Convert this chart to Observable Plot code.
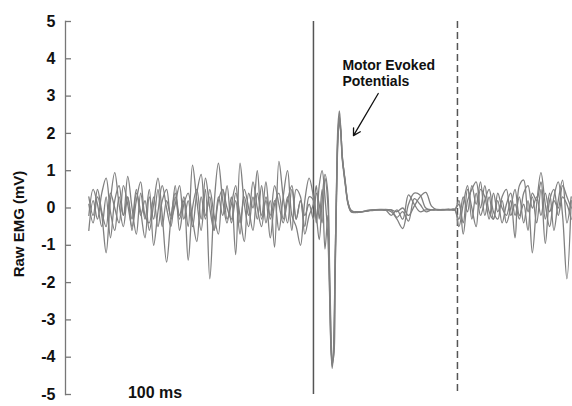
<!DOCTYPE html>
<html>
<head>
<meta charset="utf-8">
<script src="https://cdn.jsdelivr.net/npm/d3@7"></script>
<script src="https://cdn.jsdelivr.net/npm/@observablehq/plot@0.6"></script>
<style>
  html, body { margin: 0; padding: 0; background: #fff; }
  #chart svg { font-family: "Liberation Sans", Arial, Helvetica, sans-serif; background: #fff; }
</style>
</head>
<body>
<div id="chart"></div>
<script>
// Sampling times (ms relative to the stimulus)
const tPre = d3.range(-156, 0, 3);
const tMep = [0, 2, 4, 6, 8, 10, 11, 12, 13, 14, 15, 16, 17, 18, 19, 20, 22, 24, 26, 28, 30];
const tFlat = d3.range(34, 99, 4);
const tPost = d3.range(101, 180, 3);
const times = [...tPre, ...tMep, ...tFlat, ...tPost];

// Raw EMG traces (mV)
const traceA = [
  0.1,-0.4,0.3,-0.2,-1.2,0.2,0.95,0.1,-0.5,0.3,
  -0.3,0.5,-0.2,0.2,-0.6,0.1,0.8,-0.2,-1.45,-0.3,
  0.4,-0.2,0.3,-0.5,1.15,0.2,-0.6,0.5,-1.9,0.1,
  1.2,0.2,-0.4,0.3,-1.25,1.2,0.1,-0.5,0.3,-0.3,
  0.6,-0.4,0.2,-1.05,1.25,0.3,-0.4,0.5,-0.3,0.2,
  -0.5,0.3,
  0.2,-0.4,0.6,1.0,0.3,-0.8,-2.0,-3.6,-4.3,-3.8,-1.6,0.6,2.2,2.6,2.1,1.4,0.7,0.15,-0.08,-0.12,-0.12,
  -0.1,-0.08,-0.06,-0.05,-0.05,-0.1,-0.3,-0.55,0.1,0.4,0.35,0.0,-0.05,-0.05,-0.04,-0.05,-0.05,
  -0.3,0.3,-0.1,0.6,0.1,0.7,-0.2,0.3,-0.3,0.2,-0.4,0.1,0.4,-0.2,0.3,-0.4,0.2,-1.2,0.1,0.95,0.1,-0.5,0.3,0.7,-0.2,-1.9,0.2
];
const traceB = [
  -0.6,0.2,-0.3,0.4,0.8,-0.1,-0.6,0.3,-0.2,0.85,
  0.0,-0.7,0.4,-0.3,0.5,-1.0,-0.1,0.6,0.0,-0.5,
  0.3,-0.3,0.2,-1.4,0.0,0.5,-0.3,0.8,0.0,-0.6,
  0.3,-0.2,0.6,-0.4,0.2,-0.7,0.5,0.0,-0.6,0.4,
  -0.2,0.7,-0.3,0.2,-0.6,0.3,1.0,-0.2,-0.5,-1.0,
  0.2,0.8,
  0.3,-0.2,-0.85,0.2,0.9,0.4,-1.5,-3.3,-4.2,-3.9,-1.8,0.3,1.9,2.35,2.0,1.3,0.65,0.1,-0.1,-0.12,-0.1,
  -0.1,-0.07,-0.05,-0.05,-0.04,-0.05,-0.1,0.0,-0.2,0.05,0.3,0.42,0.05,-0.05,-0.05,-0.04,-0.05,
  0.2,-0.7,0.2,0.5,0.7,0.0,0.6,-0.1,-0.3,0.4,0.0,-0.2,0.2,-0.8,0.6,0.75,-0.1,0.3,-0.4,0.5,-0.95,0.2,0.5,-0.2,0.3,0.1,-0.3
];
const traceC = [
  0.3,-0.2,0.5,-0.1,-0.5,0.4,0.0,-0.4,0.6,0.1,
  -0.5,0.2,0.7,-0.2,-0.4,0.3,-0.5,0.2,0.5,-0.3,
  0.1,0.6,-0.3,0.2,-0.5,0.4,0.9,-0.2,0.3,-0.6,
  0.2,0.5,-0.3,0.1,0.6,-0.4,0.3,-0.2,0.7,0.0,
  -0.5,0.3,-0.2,0.6,0.1,-0.4,0.2,0.6,-0.3,0.2,
  -0.2,0.1,
  -0.3,0.4,0.1,-0.4,0.8,0.1,-1.2,-3.0,-4.1,-4.0,-2.0,0.2,1.8,2.3,2.05,1.4,0.7,0.12,-0.08,-0.1,-0.1,
  -0.1,-0.06,-0.05,-0.04,-0.05,-0.2,-0.05,-0.3,0.35,0.1,-0.1,-0.05,-0.05,-0.04,-0.05,-0.05,-0.03,
  -0.5,0.1,0.6,-0.3,0.4,-0.2,0.2,0.5,-0.1,-0.3,0.3,0.5,-0.2,0.1,-0.3,0.4,0.6,0.0,0.3,-0.2,0.4,-0.1,0.2,0.0,0.6,0.3,0.0
];
const traceD = [
  -0.2,0.5,0.1,-0.5,0.3,-0.8,0.2,0.6,-0.2,0.3,
  -0.6,0.4,-0.1,-0.8,0.3,-0.3,0.5,-0.5,0.2,-0.2,
  0.6,-0.6,0.1,0.4,-0.3,-0.9,0.3,-0.3,0.5,-0.2,
  -0.7,0.5,0.0,-0.3,0.4,-0.2,-0.9,0.4,0.0,1.0,
  -0.3,0.2,-0.8,0.1,0.4,-0.3,0.3,-0.6,0.5,0.3,
  -0.7,-0.2,
  0.1,0.6,-0.3,0.5,-1.1,-0.2,-1.8,-3.5,-4.25,-3.7,-1.5,0.5,2.0,2.45,2.1,1.35,0.75,0.15,-0.05,-0.1,-0.12,
  -0.1,-0.07,-0.05,-0.05,-0.06,-0.05,-0.25,-0.1,-0.35,0.25,0.1,-0.1,-0.05,-0.05,-0.05,-0.03,-0.05,
  0.1,-0.4,0.5,0.0,-0.5,0.5,0.3,-0.3,0.4,-0.1,0.2,-0.4,0.0,0.5,-0.2,0.1,-0.6,0.4,0.2,0.7,-0.3,0.4,-0.6,0.2,0.75,-0.4,0.3
];
const traceNames = ["A", "B", "C", "D"];
const traceValues = [traceA, traceB, traceC, traceD];

const yTicks = [-5, -4, -3, -2, -1, 0, 1, 2, 3, 4, 5];
const stimulusTime = [0];
const windowEndTime = [100];
const yLabel = "Raw EMG (mV)";
const timeLabel = "100 ms";
const annotationText = "Motor Evoked\nPotentials";

const rows = [];
traceValues.forEach((vals, k) => {
  vals.forEach((v, i) => rows.push({trace: traceNames[k], t: times[i], v}));
});

const chart = Plot.plot({
  width: 572,
  height: 406,
  marginLeft: 65,
  marginRight: 0,
  marginTop: 21,
  marginBottom: 12,
  x: {domain: [-172.2, 179.9], axis: null},
  y: {domain: [-5, 5], axis: null},
  marks: [
    Plot.frame({anchor: "left", stroke: "#777", strokeWidth: 1.3}),
    Plot.axisY(yTicks, {anchor: "left", tickSize: 6, dx: 6, text: null, stroke: "#777", strokeWidth: 1.3, label: null}),
    Plot.axisY(yTicks, {anchor: "left", tickSize: 0, tickPadding: 10, tickFormat: d => String(d), fontSize: 16, fontWeight: "bold", fill: "#111", label: null}),
    Plot.text([yLabel], {frameAnchor: "left", textAnchor: "middle", rotate: -90, dx: -46, dy: 16, fontSize: 15, fontWeight: "bold", fill: "#111"}),
    Plot.ruleX(stimulusTime, {stroke: "#555", strokeWidth: 1.5}),
    Plot.ruleX(windowEndTime, {stroke: "#555", strokeWidth: 1.5, strokeDasharray: "7,4"}),
    Plot.line(rows, {x: "t", y: "v", z: "trace", stroke: "#808080", strokeWidth: 1.3, curve: "catmull-rom"}),
    Plot.text([timeLabel], {x: [-110], y: [-4.95], fontSize: 16, fontWeight: "bold", fill: "#111"}),
    Plot.text([annotationText], {x: [20.1], y: [4.03], textAnchor: "start", lineAnchor: "top", lineHeight: 1.19, fontSize: 14, fontWeight: "bold", fill: "#111"}),
    Plot.arrow([{x1: 45, y1: 3.07, x2: 27.8, y2: 1.94}], {x1: "x1", y1: "y1", x2: "x2", y2: "y2", stroke: "#111", strokeWidth: 1.3, headLength: 9})
  ]
});
document.getElementById("chart").appendChild(chart);
</script>
</body>
</html>
